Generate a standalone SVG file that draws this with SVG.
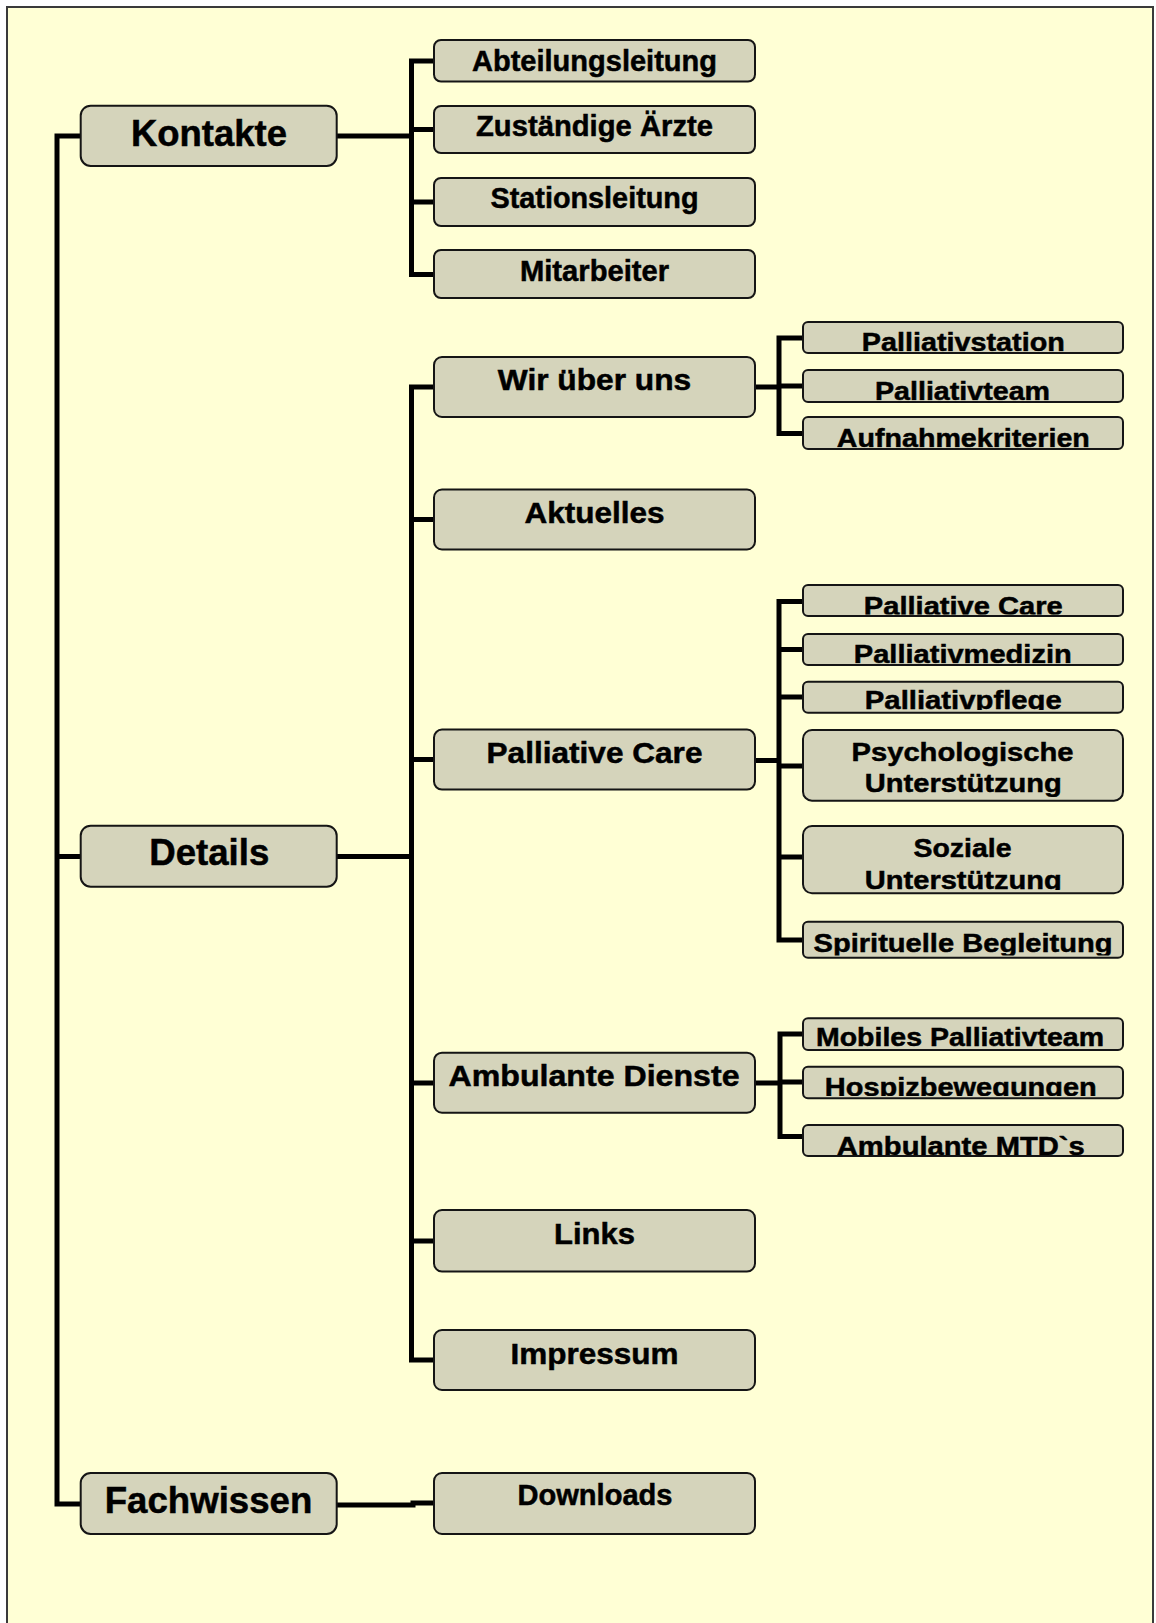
<svg xmlns="http://www.w3.org/2000/svg" width="1156" height="1623" viewBox="0 0 1156 1623">
<style>
.bx{fill:#d5d4bb;stroke:#151515;stroke-width:2}
.t{font-family:"Liberation Sans",Arial,sans-serif;font-weight:bold;fill:#000;stroke:#000;stroke-width:0.5;text-anchor:middle}
.t1{font-size:37px}
.t2{font-size:29.5px}
.t3{font-size:26.5px}
.cn{fill:none;stroke:#000;stroke-width:5;stroke-linejoin:miter;stroke-linecap:butt}
</style>
<defs>
<clipPath id="c1"><rect x="803" y="323" width="320" height="28.5"/></clipPath>
<clipPath id="c2"><rect x="803" y="371" width="320" height="29.5"/></clipPath>
<clipPath id="c3"><rect x="803" y="418" width="320" height="29.5"/></clipPath>
<clipPath id="c4"><rect x="803" y="586" width="320" height="28.5"/></clipPath>
<clipPath id="c5"><rect x="803" y="635" width="320" height="28.5"/></clipPath>
<clipPath id="c6"><rect x="803" y="682.5" width="320" height="27.5"/></clipPath>
<clipPath id="c7"><rect x="803" y="731" width="320" height="66"/></clipPath>
<clipPath id="c8"><rect x="803" y="827" width="320" height="63"/></clipPath>
<clipPath id="c9"><rect x="803" y="922.5" width="320" height="33"/></clipPath>
<clipPath id="c10"><rect x="803" y="1019" width="320" height="29"/></clipPath>
<clipPath id="c11"><rect x="803" y="1067.5" width="320" height="28.5"/></clipPath>
<clipPath id="c12"><rect x="803" y="1126" width="320" height="29.5"/></clipPath>
</defs>
<rect x="0" y="0" width="1156" height="1623" fill="#ffffff"/>
<rect x="7" y="7" width="1146" height="1640" fill="#ffffd5" stroke="#3a3a3a" stroke-width="2"/>

<g id="connectors">
<path class="cn" d="M80.7 136 H57 V1504 H80.7 M57 856.5 H80.7"/>
<path class="cn" d="M336.7 136 H411.5 M434 61 H411.5 V274.5 H434 M411.5 129.5 H434 M411.5 202 H434"/>
<path class="cn" d="M336.7 856.5 H411.5 M434 387 H411.5 V1360 H434 M411.5 519.5 H434 M411.5 759.6 H434 M411.5 1083 H434 M411.5 1241 H434"/>
<path class="cn" d="M336.7 1505 H413 V1503 H434"/>
<path class="cn" d="M754.5 387 H779 M803 338 H779 V433.5 H803 M779 386 H803"/>
<path class="cn" d="M754.5 760.5 H779 M803 601.5 H779 V940 H803 M779 649.5 H803 M779 697 H803 M779 766 H803 M779 857 H803"/>
<path class="cn" d="M754.5 1083 H780 M803 1034 H780 V1136.5 H803 M780 1082 H803"/>
</g>

<g id="kontakte"><rect class="bx" x="80.7" y="105.7" width="256" height="60.3" rx="10"/><text class="t t1" x="209" y="146" textLength="156" lengthAdjust="spacingAndGlyphs">Kontakte</text></g>
<g id="details"><rect class="bx" x="80.7" y="825.7" width="256" height="61" rx="10"/><text class="t t1" x="209.3" y="865" textLength="120" lengthAdjust="spacingAndGlyphs">Details</text></g>
<g id="fachwissen"><rect class="bx" x="80.7" y="1473" width="256" height="61" rx="10"/><text class="t t1" x="208.5" y="1513" textLength="207.5" lengthAdjust="spacingAndGlyphs">Fachwissen</text></g>

<g id="abteilungsleitung"><rect class="bx" x="434" y="40" width="321" height="41.5" rx="7"/><text class="t t2" x="594.5" y="70.5" textLength="245" lengthAdjust="spacingAndGlyphs">Abteilungsleitung</text></g>
<g id="aerzte"><rect class="bx" x="434" y="106" width="321" height="47" rx="7"/><text class="t t2" x="594.5" y="136" textLength="237" lengthAdjust="spacingAndGlyphs">Zuständige Ärzte</text></g>
<g id="stationsleitung"><rect class="bx" x="434" y="178" width="321" height="48" rx="7"/><text class="t t2" x="594.5" y="207.5" textLength="208" lengthAdjust="spacingAndGlyphs">Stationsleitung</text></g>
<g id="mitarbeiter"><rect class="bx" x="434" y="250" width="321" height="48" rx="7"/><text class="t t2" x="594.5" y="281" textLength="149" lengthAdjust="spacingAndGlyphs">Mitarbeiter</text></g>

<g id="wir-ueber-uns"><rect class="bx" x="434" y="357" width="321" height="60" rx="8"/><text class="t t2" x="594.5" y="390" textLength="193.5" lengthAdjust="spacingAndGlyphs">Wir über uns</text></g>
<g id="aktuelles"><rect class="bx" x="434" y="489.5" width="321" height="60" rx="8"/><text class="t t2" x="594.5" y="522.5" textLength="140" lengthAdjust="spacingAndGlyphs">Aktuelles</text></g>
<g id="palliative-care"><rect class="bx" x="434" y="729.6" width="321" height="60" rx="8"/><text class="t t2" x="594.5" y="762.6" textLength="216" lengthAdjust="spacingAndGlyphs">Palliative Care</text></g>
<g id="ambulante-dienste"><rect class="bx" x="434" y="1052.7" width="321" height="60" rx="8"/><text class="t t2" x="594" y="1085.5" textLength="291" lengthAdjust="spacingAndGlyphs">Ambulante Dienste</text></g>
<g id="links"><rect class="bx" x="434" y="1210" width="321" height="61.5" rx="8"/><text class="t t2" x="594.5" y="1243.5" textLength="81" lengthAdjust="spacingAndGlyphs">Links</text></g>
<g id="impressum"><rect class="bx" x="434" y="1330" width="321" height="60" rx="8"/><text class="t t2" x="594.5" y="1364" textLength="168" lengthAdjust="spacingAndGlyphs">Impressum</text></g>
<g id="downloads"><rect class="bx" x="434" y="1473" width="321" height="61" rx="8"/><text class="t t2" x="595" y="1505" textLength="155" lengthAdjust="spacingAndGlyphs">Downloads</text></g>

<g id="palliativstation"><rect class="bx" x="803" y="322" width="320" height="31" rx="5"/><text class="t t3" x="963.3" y="351" textLength="203" lengthAdjust="spacingAndGlyphs" clip-path="url(#c1)">Palliativstation</text></g>
<g id="palliativteam"><rect class="bx" x="803" y="370" width="320" height="32" rx="5"/><text class="t t3" x="962.5" y="399.5" textLength="175" lengthAdjust="spacingAndGlyphs" clip-path="url(#c2)">Palliativteam</text></g>
<g id="aufnahmekriterien"><rect class="bx" x="803" y="417" width="320" height="32" rx="5"/><text class="t t3" x="963.3" y="447" textLength="253" lengthAdjust="spacingAndGlyphs" clip-path="url(#c3)">Aufnahmekriterien</text></g>

<g id="pc-palliative-care"><rect class="bx" x="803" y="585" width="320" height="31" rx="5"/><text class="t t3" x="963.3" y="614.5" textLength="199" lengthAdjust="spacingAndGlyphs" clip-path="url(#c4)">Palliative Care</text></g>
<g id="palliativmedizin"><rect class="bx" x="803" y="634" width="320" height="31" rx="5"/><text class="t t3" x="962.8" y="662.5" textLength="218" lengthAdjust="spacingAndGlyphs" clip-path="url(#c5)">Palliativmedizin</text></g>
<g id="palliativpflege"><rect class="bx" x="803" y="681.7" width="320" height="31" rx="5"/><text class="t t3" x="963.3" y="708.5" textLength="197" lengthAdjust="spacingAndGlyphs" clip-path="url(#c6)">Palliativpflege</text></g>
<g id="psychologische"><rect class="bx" x="803" y="730" width="320" height="70.7" rx="9"/><text class="t t3" clip-path="url(#c7)"><tspan x="962.5" y="760.5" textLength="222" lengthAdjust="spacingAndGlyphs">Psychologische</tspan><tspan x="963.3" y="792" textLength="197" lengthAdjust="spacingAndGlyphs">Unterstützung</tspan></text></g>
<g id="soziale"><rect class="bx" x="803" y="826" width="320" height="67.3" rx="9"/><text class="t t3" clip-path="url(#c8)"><tspan x="962.5" y="857" textLength="98" lengthAdjust="spacingAndGlyphs">Soziale</tspan><tspan x="963.3" y="888.5" textLength="197" lengthAdjust="spacingAndGlyphs">Unterstützung</tspan></text></g>
<g id="spirituelle"><rect class="bx" x="803" y="921.7" width="320" height="36" rx="5"/><text class="t t3" x="963" y="951.5" textLength="299" lengthAdjust="spacingAndGlyphs" clip-path="url(#c9)">Spirituelle Begleitung</text></g>

<g id="mobiles"><rect class="bx" x="803" y="1018.3" width="320" height="31.7" rx="5"/><text class="t t3" x="960" y="1046" textLength="288" lengthAdjust="spacingAndGlyphs" clip-path="url(#c10)">Mobiles Palliativteam</text></g>
<g id="hospiz"><rect class="bx" x="803" y="1066.7" width="320" height="31.6" rx="5"/><text class="t t3" x="960.8" y="1095.5" textLength="272" lengthAdjust="spacingAndGlyphs" clip-path="url(#c11)">Hospizbewegungen</text></g>
<g id="mtd"><rect class="bx" x="803" y="1125" width="320" height="31" rx="5"/><text class="t t3" x="960.8" y="1155" textLength="248" lengthAdjust="spacingAndGlyphs" clip-path="url(#c12)">Ambulante MTD`s</text></g>
</svg>
